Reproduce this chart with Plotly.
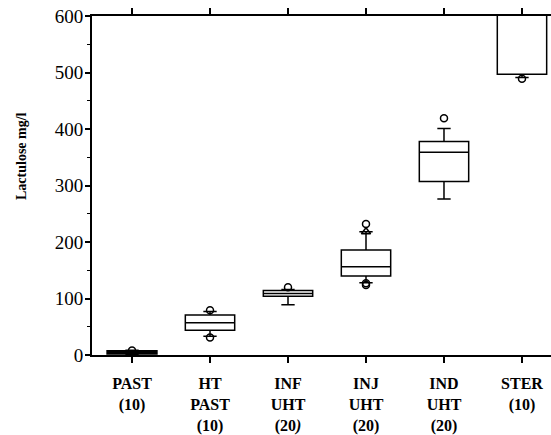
import plotly.graph_objects as go

categories = ["PAST<br>(10)", "HT<br>PAST<br>(10)", "INF<br>UHT<br>(20<i>)</i>", "INJ<br>UHT<br>(20)", "IND<br>UHT<br>(20)", "STER<br>(10)"]
q1 =        [2,   44,  104, 140, 307, 497]
median =    [4,   57,  109, 156, 359, 650]
q3 =        [7,   71,  114, 186, 378, 700]
lowerfence = [1,  33,  89,  128, 276, 491]
upperfence = [8,  77,  116, 218, 401, 720]

# outliers: (category index, value)
outlier_cat = [0, 1, 1, 2, 3, 3, 3, 4, 5]
outlier_val = [8, 79, 31, 120, 232, 124, 127, 419, 489]
triangle_cat = [3]
triangle_val = [218]

yticks = [0, 100, 200, 300, 400, 500, 600]

FONT = "Liberation Serif"
xs = list(range(len(categories)))

fig = go.Figure()
# PAST box (filled black)
fig.add_trace(go.Box(
    x=[xs[0]], q1=[q1[0]], median=[median[0]], q3=[q3[0]],
    lowerfence=[lowerfence[0]], upperfence=[upperfence[0]],
    width=0.633, whiskerwidth=0.27, boxpoints=False,
    fillcolor="black", line=dict(color="black", width=2), showlegend=False,
))
fig.add_trace(go.Box(
    x=xs[1:], q1=q1[1:], median=median[1:], q3=q3[1:],
    lowerfence=lowerfence[1:], upperfence=upperfence[1:],
    width=0.633, whiskerwidth=0.27, boxpoints=False,
    fillcolor="white", line=dict(color="black", width=1.5), showlegend=False,
))
fig.add_trace(go.Scatter(
    x=outlier_cat, y=outlier_val, mode="markers",
    marker=dict(symbol="circle-open", size=7, color="black", line=dict(width=1.5)),
    showlegend=False,
))
fig.add_trace(go.Scatter(
    x=triangle_cat, y=triangle_val, mode="markers",
    marker=dict(symbol="triangle-up-open", size=8, color="black", line=dict(width=1.5)),
    showlegend=False,
))

fig.update_layout(
    width=551, height=435,
    margin=dict(l=92, r=0, t=16, b=80),
    plot_bgcolor="white", paper_bgcolor="white",
    boxmode="overlay",
    font=dict(family=FONT, color="black"),
    showlegend=False,
)
fig.update_xaxes(
    range=[-0.513, 5.372], tickmode="array", tickvals=xs, ticktext=["<b>%s</b>" % c for c in categories],
    ticks="outside", ticklen=6, tickwidth=1.5, tickcolor="black",
    showline=True, linecolor="black", linewidth=2, mirror="ticks",
    showgrid=False, zeroline=False, ticklabelstandoff=7,
    tickfont=dict(family=FONT, size=16, color="black"),
)
fig.update_yaxes(
    range=[0, 600], tickmode="array", tickvals=yticks,
    ticks="outside", ticklen=5, tickwidth=1.5, tickcolor="black",
    minor=dict(dtick=50, ticks="outside", ticklen=3, tickwidth=1, tickcolor="black"),
    showline=True, linecolor="black", linewidth=2, mirror=False,
    showgrid=False, zeroline=False, ticklabelstandoff=-2,
    tickfont=dict(family=FONT, size=19, color="black"),
)
fig.add_annotation(
    text="<b>Lactulose mg/l</b>", textangle=-90,
    xref="paper", yref="paper", x=(21 - 92) / 459, y=(355 - 156) / 339,
    showarrow=False, xanchor="center", yanchor="middle",
    font=dict(family=FONT, size=14, color="black"),
)
fig.write_html("out.html")
